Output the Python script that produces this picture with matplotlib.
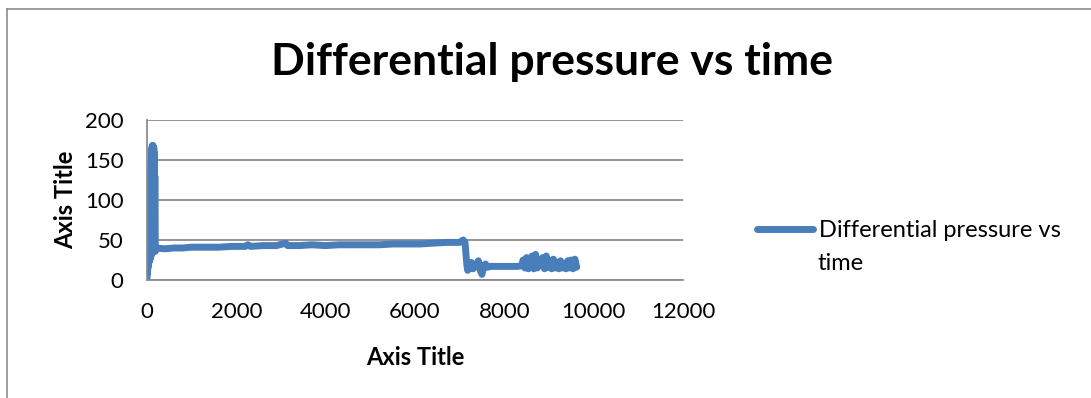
import matplotlib
matplotlib.use("Agg")
import matplotlib.pyplot as plt
from matplotlib.lines import Line2D

# Time (s) and differential pressure readings
time_s = [
    0, 4, 8, 12, 16, 20, 24, 28, 32, 36, 40, 44, 48, 52, 56, 60, 64, 68,
    72, 76, 80, 84, 88, 92, 96, 100, 104, 108, 112, 116, 120, 124, 128, 132,
    136, 140, 144, 148, 152, 156, 160, 164, 168, 172, 176, 180, 190, 200,
    400, 600, 800, 1000, 1300, 1600, 1900, 2200, 2260, 2320, 2600, 2900,
    3100, 3150, 3400, 3700, 4000, 4300, 4600, 4900, 5200, 5500, 5800, 6100,
    6400, 6700, 7000, 7080, 7120, 7160, 7180, 7220, 7260, 7300, 7340, 7380,
    7420, 7460, 7500, 7540, 7580, 7620, 7700, 7900, 8100, 8300, 8400, 8420,
    8460, 8500, 8540, 8580, 8620, 8660, 8700, 8740, 8780, 8820, 8860, 8900,
    8940, 8980, 9020, 9060, 9100, 9140, 9180, 9220, 9260, 9300, 9340, 9380,
    9420, 9460, 9500, 9540, 9580, 9620,
]
pressure = [
    0, 22, 118, 8, 116, 14, 120, 18, 112, 20, 119, 22, 110, 24, 117, 25, 108, 26,
    115, 28, 125, 30, 140, 30, 150, 32, 160, 34, 165, 35, 168, 36, 166, 38,
    168, 40, 165, 35, 166, 38, 160, 36, 150, 40, 130, 45, 36, 40,
    39, 40, 40, 41, 41, 41, 42, 42, 44, 42, 43, 43,
    46, 43, 43, 44, 43, 44, 44, 44, 44, 45, 45, 45,
    46, 47, 47, 50, 47, 20, 12, 15, 22, 14, 18, 20,
    24, 12, 7, 18, 20, 16, 17, 17, 17, 17, 18, 25,
    15, 28, 14, 22, 30, 14, 32, 15, 25, 18, 28, 14,
    30, 16, 24, 14, 26, 15, 22, 14, 24, 15, 20, 14,
    24, 15, 25, 14, 26, 16,
]

x_ticks = [0, 2000, 4000, 6000, 8000, 10000, 12000]
y_ticks = [0, 50, 100, 150, 200]

title = "Differential pressure vs time"
series_label = ["Differential pressure vs", "time"]

plt.rcParams["font.family"] = ["Lato", "DejaVu Sans"]

fig = plt.figure(figsize=(10.91, 3.98), dpi=100)
ax = fig.add_axes([0.1347, 0.2965, 0.4913, 0.402])

line_color = "#4A7EBB"
grid_color = "#8C8C8C"

ax.plot(time_s, pressure, color=line_color, lw=5, solid_joinstyle="round",
        solid_capstyle="round", label=series_label[0])

ax.set_xlim(0, 12000)
ax.set_ylim(0, 200)
ax.set_xticks(x_ticks)
ax.set_yticks(y_ticks)
ax.tick_params(length=0, labelsize=16, colors="black")
ax.tick_params(axis="x", pad=16)
ax.tick_params(axis="y", pad=17)
ax.yaxis.grid(True, color=grid_color, lw=1.3)
ax.set_axisbelow(True)
for side in ("top", "right"):
    ax.spines[side].set_visible(False)
for side in ("left", "bottom"):
    ax.spines[side].set_color(grid_color)
    ax.spines[side].set_linewidth(1.3)

ax.set_xlabel("Axis Title", fontsize=17, fontweight="bold", labelpad=17)
ax.set_ylabel("Axis Title", fontsize=17, fontweight="bold", labelpad=5.5)

fig.text(0.506, 0.845, title, fontsize=32, fontweight="bold", ha="center", va="center")

leg = ax.legend(loc="center left", bbox_to_anchor=(0.694, 0.42),
                bbox_transform=fig.transFigure, frameon=False, fontsize=17,
                handlelength=2.35, handletextpad=0.25, borderpad=0, borderaxespad=0)
fig.text(0.749, 0.338, series_label[1], fontsize=17, ha="left", va="center")

# Chart-area border along top and left
fig.add_artist(Line2D([0.0064, 1.0], [0.977, 0.977], transform=fig.transFigure,
                      color=grid_color, lw=1.2))
fig.add_artist(Line2D([0.0064, 0.0064], [0.0, 0.977], transform=fig.transFigure,
                      color=grid_color, lw=1.2))

fig.savefig("out.png", dpi=100)
